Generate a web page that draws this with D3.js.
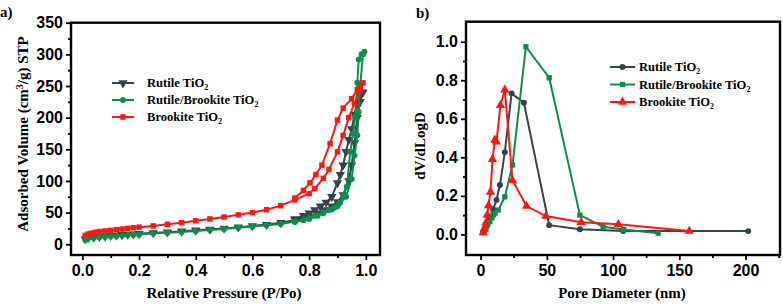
<!DOCTYPE html>
<html>
<head>
<meta charset="utf-8">
<script src="https://cdn.jsdelivr.net/npm/d3@7"></script>
<style>
  body { margin: 0; background: #fff; }
  .tick text { font-family: "Liberation Sans", Arial, sans-serif; font-weight: bold; font-size: 16px; fill: #000; }
  .title { font-family: "Liberation Serif", "Times New Roman", serif; font-weight: bold; font-size: 15px; }
  .leg { font-family: "Liberation Serif", "Times New Roman", serif; font-weight: bold; font-size: 12.6px; }
</style>
</head>
<body>
<script>
// ---- panel a: N2 isotherms (adsorption branch, then desorption branch) ----
let rutileP   = [0.01,0.02,0.04,0.06,0.08,0.1,0.12,0.14,0.16,0.18,0.2,0.25,0.3,0.35,0.4,0.45,0.5,0.55,0.6,0.65,0.7,0.75,0.8,0.83,0.85,0.88,0.9,0.92,0.94,0.95,0.96,0.97,0.98,0.99,
                 0.98,0.97,0.96,0.95,0.94,0.93,0.92,0.91,0.9,0.88,0.86,0.84,0.82,0.8,0.78,0.75]
let rutileV   = [8,10,11,12,13,13.5,14,15,15.5,16,16.5,18,19,20.5,22,23.5,25,27,29,31,34,38,44,49,54,60,67,78,100,125,160,200,225,240,
                 235,222,205,182,165,146,125,110,97,75,66,60,54,49,45,40]
let mixedP    = [0.01,0.02,0.04,0.06,0.08,0.1,0.12,0.14,0.16,0.18,0.2,0.25,0.3,0.35,0.4,0.45,0.5,0.55,0.6,0.65,0.7,0.75,0.8,0.83,0.85,0.88,0.9,0.93,0.95,0.96,0.97,0.975,0.98,0.99,0.995,
                 0.985,0.975,0.97,0.962,0.955,0.945,0.933,0.92,0.909,0.89,0.87,0.85,0.82,0.8,0.78,0.75]
let mixedV    = [7,9,10,11,12,12.5,13,14,14.5,15,15.5,17,18,19.5,21,22.5,24,26,28,30,32,36,40,45,49,55,60,75,103,140,172,209,250,300,304,
                 300,292,255,201,175,146,91,78,65,58,54,50,45,41,38,35]
let brookP    = [0.01,0.02,0.03,0.04,0.05,0.06,0.08,0.1,0.12,0.14,0.16,0.18,0.2,0.25,0.3,0.35,0.4,0.45,0.5,0.55,0.6,0.65,0.7,0.75,0.8,0.82,0.85,0.87,0.9,0.92,0.94,0.96,0.98,0.99,
                 0.98,0.97,0.95,0.92,0.9,0.874,0.845,0.824,0.803,0.78,0.75]
let brookV    = [14,16,17,18,19,20,21,22,23,24,25,26,27,29,31.5,34,37,40,43,46.5,50,54.5,61,70,80,88,104,118,146,172,200,222,242,255,
                 248,244,230,215,196,159,125,110,97,85,73]

// ---- panel b: pore size distribution ----
let rutileD   = [2,3,4.5,6,7,9.5,12,14.6,18.3,23.4,32.7,51.8,75,107.6,202]
let rutileDV  = [0.015,0.03,0.055,0.07,0.09,0.13,0.178,0.256,0.426,0.732,0.683,0.048,0.027,0.017,0.017]
let mixedD    = [2.5,3.5,4.5,5.5,7,8.5,9.5,11,13.3,18.3,24.1,34.2,51.8,75,92.5,108,134]
let mixedDV   = [0.014,0.025,0.04,0.05,0.066,0.085,0.1,0.11,0.126,0.195,0.36,0.974,0.813,0.1,0.04,0.025,0.006]
let brookD    = [2,3,4,5,6,7.5,9,10.8,12,15,18.3,24.1,34.7,49.3,76,104,157.5]
let brookDV   = [0.01,0.03,0.06,0.1,0.15,0.22,0.39,0.49,0.48,0.67,0.75,0.28,0.147,0.095,0.063,0.052,0.017]

let aTicks = [0,50,100,150,200,250,300,350]
let aXTicks = [0,0.2,0.4,0.6,0.8,1.0]
let bTicks = [0,0.2,0.4,0.6,0.8,1.0]
let bXTicks = [0,50,100,150,200]

let gray = "#37434a", green = "#0c8e4a", red = "#ff1616"

let W = 783, H = 304
let svg = d3.select("body").append("svg").attr("width", W).attr("height", H)

function zip(xs, ys){ return xs.map((x,i)=>({x:x, y:ys[i]})) }

function drawPanel(p){
    let x = d3.scaleLinear().domain(p.xd).range([p.l, p.r])
    let y = d3.scaleLinear().domain(p.yd).range([p.b, p.t])
    let g = svg.append("g")

    // minor ticks
    g.append("g").attr("transform","translate(0,"+p.b+")")
        .call(d3.axisBottom(x).tickValues(p.xMinor).tickSize(3).tickFormat(""))
    g.append("g").attr("transform","translate("+p.l+",0)")
        .call(d3.axisLeft(y).tickValues(p.yMinor).tickSize(3).tickFormat(""))
    // major ticks
    g.append("g").attr("transform","translate(0,"+p.b+")")
        .call(d3.axisBottom(x).tickValues(p.xTicks).tickSize(5).tickPadding(5).tickFormat(p.xFmt))
    g.append("g").attr("transform","translate("+p.l+",0)")
        .call(d3.axisLeft(y).tickValues(p.yTicks).tickSize(5).tickPadding(3).tickFormat(p.yFmt))
    g.selectAll(".domain").remove()
    g.selectAll(".tick line").attr("stroke","#000").attr("stroke-width",1.8)

    // series
    let line = d3.line().x(d=>x(d.x)).y(d=>y(d.y))
    p.series.forEach(s=>{
        let pts = zip(s.xs, s.ys)
        g.append("path").datum(pts).attr("d", line)
            .attr("fill","none").attr("stroke", s.color).attr("stroke-width",2)
        g.selectAll(null).data(pts).enter().append("path")
            .attr("d", d3.symbol().type(s.sym).size(s.size))
            .attr("transform", d=>"translate("+x(d.x)+","+y(d.y)+")"+(s.flip?" rotate(180)":""))
            .attr("fill", s.color)
    })

    // frame
    g.append("rect").attr("x",p.l).attr("y",p.t).attr("width",p.r-p.l).attr("height",p.b-p.t)
        .attr("fill","none").attr("stroke","#000").attr("stroke-width",2.4)

    // legend
    p.series.forEach((s,i)=>{
        let ly = p.leg.y + i*p.leg.dy
        g.append("line").attr("x1",p.leg.x1).attr("x2",p.leg.x2).attr("y1",ly).attr("y2",ly)
            .attr("stroke", s.color).attr("stroke-width",2)
        g.append("path").attr("d", d3.symbol().type(s.sym).size(s.size))
            .attr("transform","translate("+((p.leg.x1+p.leg.x2)/2)+","+ly+")"+(s.flip?" rotate(180)":""))
            .attr("fill", s.color)
        let t = g.append("text").attr("class","leg").attr("x",p.leg.tx).attr("y",ly+4)
        t.append("tspan").text(s.name)
        t.append("tspan").attr("font-size","8px").attr("dy",3).text("2")
    })

    // axis titles
    g.append("text").attr("class","title").attr("x",p.xt[0]).attr("y",p.xt[1])
        .attr("text-anchor","middle").text(p.xTitle)
    let yt = g.append("text").attr("class","title").attr("text-anchor","middle")
        .attr("transform","translate("+p.yt[0]+","+p.yt[1]+") rotate(-90)")
    p.yTitle(yt)
    g.append("text").attr("class","title").attr("x",p.lab[0]).attr("y",p.lab[1])
        .attr("font-size","20px").text(p.label)
}

drawPanel({
    l:71, r:380, t:22.7, b:255,
    xd:[-0.04,1.05], yd:[-17,350],
    xTicks:aXTicks, xMinor:[0.1,0.3,0.5,0.7,0.9],
    yTicks:aTicks, yMinor:[25,75,125,175,225,275,325],
    xFmt:d3.format(".1f"), yFmt:d3.format("d"),
    series:[
        {name:"Rutile TiO", xs:rutileP, ys:rutileV, color:gray, sym:d3.symbolTriangle, size:38, flip:true},
        {name:"Rutile/Brookite TiO", xs:mixedP, ys:mixedV, color:green, sym:d3.symbolCircle, size:28},
        {name:"Brookite TiO", xs:brookP, ys:brookV, color:red, sym:d3.symbolSquare, size:30}
    ],
    leg:{x1:112, x2:134, tx:147, y:83, dy:17},
    xTitle:"Relative Pressure (P/Po)", xt:[224,298],
    yTitle:t=>{
        t.append("tspan").text("Adsorbed Volume (cm")
        t.append("tspan").attr("font-size","10px").attr("dy",-5).text("3")
        t.append("tspan").attr("dy",5).text("/g) STP")
    },
    yt:[28,134],
    label:"a)", lab:[0,17]
})

drawPanel({
    l:466, r:780, t:21.7, b:255,
    xd:[-11,226], yd:[-0.107,1.104],
    xTicks:bXTicks, xMinor:[25,75,125,175,225],
    yTicks:bTicks, yMinor:[0.1,0.3,0.5,0.7,0.9],
    xFmt:d3.format("d"), yFmt:d3.format(".1f"),
    series:[
        {name:"Rutile TiO", xs:rutileD, ys:rutileDV, color:gray, sym:d3.symbolCircle, size:28},
        {name:"Rutile/Brookite TiO", xs:mixedD, ys:mixedDV, color:green, sym:d3.symbolSquare, size:28},
        {name:"Brookite TiO", xs:brookD, ys:brookDV, color:red, sym:d3.symbolTriangle, size:38}
    ],
    leg:{x1:610, x2:635, tx:639, y:67, dy:17.5},
    xTitle:"Pore Diameter (nm)", xt:[622,298],
    yTitle:t=>{ t.text("dV/dLogD") },
    yt:[425,146],
    label:"b)", lab:[416,18]
})
</script>
</body>
</html>
